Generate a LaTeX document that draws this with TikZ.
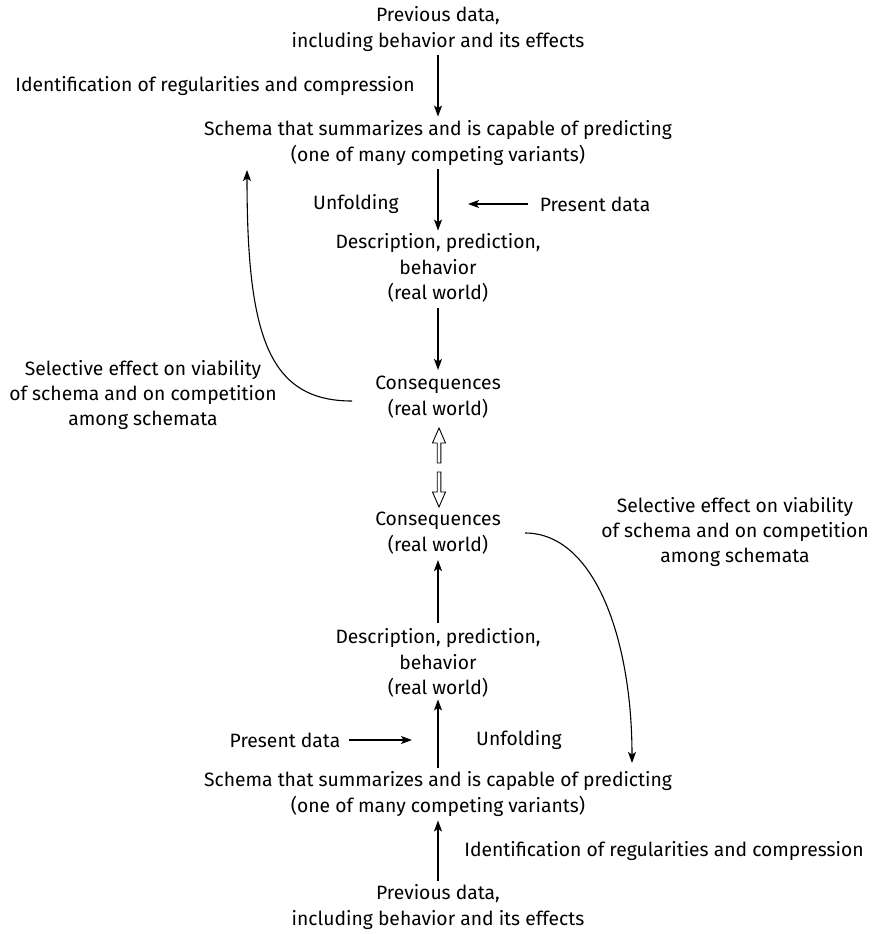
\documentclass[tikz,border=0pt]{standalone}
\usepackage{fontspec}
\setmainfont{Fira Sans}
\usetikzlibrary{arrows.meta}
\begin{document}
\begin{tikzpicture}[x=1pt,y=-1pt,
  lbl/.style={align=center,font=\fontsize{19.3}{25.3}\selectfont,inner sep=0pt},
  flow/.style={line width=1.2pt,-{Stealth[length=11pt,width=8pt,inset=2.5pt]}},
  feedback/.style={line width=1.1pt,-{Stealth[length=11pt,width=8pt,inset=2.5pt]}},
  hollow/.style={line width=0.9pt,fill=white}]
\useasboundingbox (0,0) rectangle (877,934);

% upper chain
\node[lbl] (prev1) at (438,29) {Previous data,\\including behavior and its effects};
\node[lbl] (ident1) at (215,86) {Identification of regularities and compression};
\node[lbl] (schema1) at (438,143) {Schema that summarizes and is capable of predicting\\(one of many competing variants)};
\node[lbl] (unf1) at (356,204) {Unfolding};
\node[lbl] (pres1) at (595,204) {Present data};
\node[lbl] (desc1) at (438,268) {Description, prediction,\\behavior\\(real world)};
\node[lbl] (cons1) at (438,397) {Consequences\\(real world)};
\node[lbl] (sel1) at (143,395) {Selective effect on viability\\of schema and on competition\\among schemata};

% lower chain
\node[lbl] (cons2) at (438,533) {Consequences\\(real world)};
\node[lbl] (sel2) at (735,532) {Selective effect on viability\\of schema and on competition\\among schemata};
\node[lbl] (desc2) at (438,663) {Description, prediction,\\behavior\\(real world)};
\node[lbl] (pres2) at (285,740) {Present data};
\node[lbl] (unf2) at (519,740) {Unfolding};
\node[lbl] (schema2) at (438,794) {Schema that summarizes and is capable of predicting\\(one of many competing variants)};
\node[lbl] (ident2) at (664,851) {Identification of regularities and compression};
\node[lbl] (prev2) at (438,907) {Previous data,\\including behavior and its effects};

% straight connectors
\draw[flow,shorten <=4pt,shorten >=4pt] (prev1) -- (schema1);
\draw[flow,shorten <=4pt,shorten >=3pt] (schema1) -- (desc1);
\draw[flow,shorten <=12pt] (pres1.west) -- (pres1.west -| 468,0);
\draw[flow,shorten <=6pt,shorten >=6pt] (desc1) -- (cons1);
\draw[flow,shorten <=6pt,shorten >=6pt] (desc2) -- (cons2);
\draw[flow,shorten <=4pt,shorten >=2pt] (schema2) -- (desc2);
\draw[flow,shorten <=9pt] (pres2.east) -- (pres2.east -| 412,0);
\draw[flow,shorten <=4pt,shorten >=4pt] (prev2) -- (schema2);

% selection feedback curves
\coordinate (s1a) at (352,401);
\coordinate (s1b) at (247,170);
\draw[feedback] (s1a) .. controls (268,401) and (247,335) .. (s1b);
\coordinate (s2a) at (525,533);
\coordinate (s2b) at (632,763);
\draw[feedback] (s2a) .. controls (595,533) and (632,640) .. (s2b);

% hollow block arrows between the two consequence nodes
\draw[hollow] (437.2,463) -- (437.2,443) -- (432.5,443) -- (439,428) -- (445.5,443) -- (440.8,443) -- (440.8,463) -- cycle;
\draw[hollow] (437.2,472) -- (437.2,492) -- (432.5,492) -- (439,507) -- (445.5,492) -- (440.8,492) -- (440.8,472) -- cycle;
\end{tikzpicture}
\end{document}
